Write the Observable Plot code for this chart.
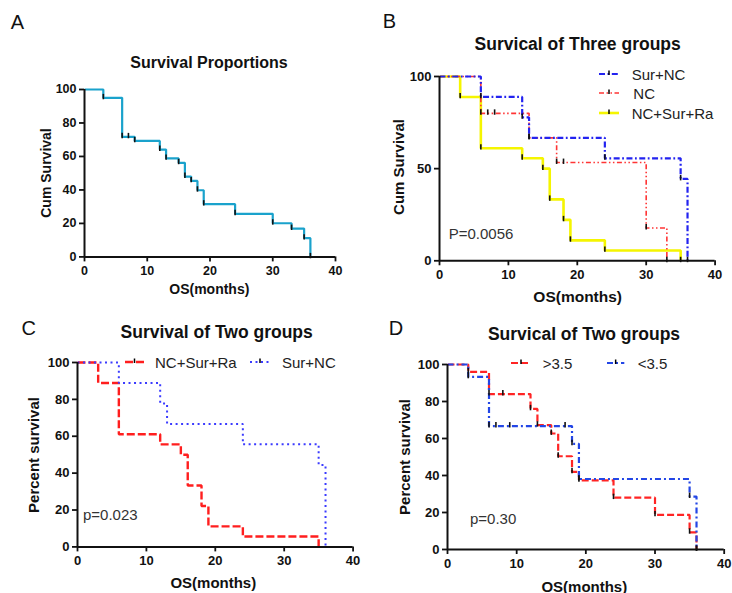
<!DOCTYPE html>
<html>
<head>
<meta charset="utf-8">
<script src="https://cdn.jsdelivr.net/npm/d3@7"></script>
<script src="https://cdn.jsdelivr.net/npm/@observablehq/plot@0.6"></script>
<style>
  body { margin: 0; background: white; }
  #root { position: relative; width: 732px; height: 593px; background: white; overflow: hidden;
          font-family: 'Liberation Sans', Arial, sans-serif; color: #111; }
  .t { position: absolute; white-space: nowrap; line-height: 1; }
</style>
</head>
<body>
<div id="root"></div>
<script>
// ---------- data ----------
const monthTicks = [0, 10, 20, 30, 40];
const pctTicks = [0, 20, 40, 60, 80, 100];
const cumTicksB = [0, 50, 100];

// Panel A: all patients
const aTime = [0, 3, 6, 8, 12, 13, 15, 16, 17, 18, 19, 24, 30, 33, 35, 36];
const aSurv = [100, 95, 71.7, 69.3, 64.1, 58.8, 56.2, 48, 45.4, 39.8, 31.5, 25.7, 20.1, 16.9, 11.2, 0];
const aCensorTime = [7];
const aCensorSurv = [71.7];

// Panel B / C groups
const surNcTime = [0, 6, 12, 13, 24, 35, 36];
const surNcSurv = [100, 88.9, 77.8, 66.7, 55.6, 44.4, 0];
const ncTime = [0, 6, 13, 17, 30, 33];
const ncSurv = [100, 80, 66.7, 53.3, 17.8, 0];
const ncCensorTime = [7, 8, 18];
const ncCensorSurv = [80, 80, 53.3];
const triTime = [0, 3, 6, 12, 15, 16, 18, 19, 24, 35];
const triSurv = [100, 88.9, 61.1, 55.6, 50, 33.3, 22.2, 11.1, 5.6, 0];

// Panel D groups
const hiTime = [0, 3, 6, 12, 13, 15, 16, 18, 19, 24, 30, 35, 36];
const hiSurv = [100, 96, 84, 76, 67.2, 62.7, 50.4, 42, 37.4, 28, 18.7, 9.3, 0];
const hiCensorTime = [8];
const hiCensorSurv = [84];
const loTime = [0, 3, 6, 18, 19, 35, 36];
const loSurv = [100, 93.3, 66.7, 57.1, 38.1, 28.6, 0];
const loCensorTime = [7, 9, 17];
const loCensorSurv = [66.7, 66.7, 66.7];

// ---------- helpers ----------
const root = document.getElementById("root");
const FONT = "'Liberation Sans', Arial, sans-serif";

function rows(t, s) { return t.map((x, i) => ({x, y: s[i]})); }
function tickRows(t, s, ct, cs) {
  const r = rows(t, s).filter(d => d.x > 0);
  return r.concat(ct ? rows(ct, cs) : []);
}
// short vertical tick symbol (censor / event marks)
const vTick = {
  draw(ctx, size) {
    const r = Math.sqrt(size / Math.PI);
    ctx.moveTo(0, -r);
    ctx.lineTo(0, r * 0.35);
  }
};

function text(str, x, y, opts = {}) {
  const d = document.createElement("div");
  d.className = "t";
  d.textContent = str;
  d.style.left = x + "px";
  d.style.top = y + "px";
  d.style.fontSize = (opts.size || 15) + "px";
  d.style.fontWeight = opts.weight || "normal";
  d.style.fontFamily = opts.family || FONT;
  d.style.color = opts.color || "#111";
  let tr = opts.left ? "translate(0,-50%)" : "translate(-50%,-50%)";
  if (opts.rotate) tr += " rotate(-90deg)";
  d.style.transform = tr;
  root.appendChild(d);
}

function legendSample(x1, x2, y, color, dash, sw) {
  const svg = d3.create("svg")
    .attr("width", x2 - x1 + 4).attr("height", 12)
    .style("position", "absolute").style("left", (x1 - 2) + "px").style("top", (y - 6) + "px")
    .style("overflow", "visible");
  svg.append("line").attr("x1", 2).attr("x2", x2 - x1 + 2).attr("y1", 6).attr("y2", 6)
    .attr("stroke", color).attr("stroke-width", sw).attr("stroke-dasharray", dash || null);
  const mx = (x2 - x1) / 2 + 2;
  svg.append("line").attr("x1", mx).attr("x2", mx).attr("y1", 2.5).attr("y2", 7)
    .attr("stroke", "black").attr("stroke-width", 1.5);
  root.appendChild(svg.node());
}

function panel({x0, x40, y100, y0, yTicks, series, ticks, fs}) {
  const ml = 50, mr = 15, mt = 15, mb = 30;
  const width = (x40 - x0) + ml + mr;
  const height = (y0 - y100) + mt + mb;
  const marks = [];
  for (const s of series) {
    marks.push(Plot.line(rows(s.t, s.s), {
      x: "x", y: "y", curve: "step-after",
      stroke: s.color, strokeWidth: s.sw, strokeDasharray: s.dash,
      strokeLinejoin: "miter", strokeLinecap: "butt"
    }));
  }
  if (ticks) {
    marks.push(Plot.dot(ticks, {x: "x", y: "y", symbol: vTick, r: 4, fill: "none", stroke: "#111", strokeWidth: 1.6}));
  }
  marks.push(
    Plot.axisX({ticks: monthTicks, tickSize: 5, tickPadding: 4, label: null, strokeWidth: 1.8}),
    Plot.axisY({ticks: yTicks, tickSize: 5, tickPadding: 3, label: null, strokeWidth: 1.8}),
    Plot.ruleX([0], {y1: 0, y2: 100, stroke: "#111", strokeWidth: 2}),
    Plot.ruleY([0], {x1: 0, x2: 40, stroke: "#111", strokeWidth: 2})
  );
  const p = Plot.plot({
    width, height, marginLeft: ml, marginRight: mr, marginTop: mt, marginBottom: mb,
    x: {domain: [0, 40]},
    y: {domain: [0, 100]},
    style: {fontFamily: FONT, fontSize: fs + "px", fontWeight: "bold", color: "#111",
            background: "transparent", overflow: "visible"},
    marks
  });
  p.style.position = "absolute";
  p.style.left = (x0 - ml) + "px";
  p.style.top = (y100 - mt) + "px";
  root.appendChild(p);
}

// ---------- Panel A ----------
panel({
  x0: 84, x40: 335, y100: 89.3, y0: 256.7, yTicks: pctTicks, fs: 12.5,
  series: [{t: aTime, s: aSurv, color: "#1aa2cc", sw: 2.2}],
  ticks: tickRows(aTime, aSurv, aCensorTime, aCensorSurv)
});
text("A", 17.5, 22, {size: 20});
text("Survival Proportions", 209, 62.5, {size: 16, weight: "bold"});
text("Cum Survival", 45.7, 172.7, {size: 14, weight: "bold", rotate: true});
text("OS(months)", 209.3, 288.5, {size: 14, weight: "bold"});

// ---------- Panel B ----------
panel({
  x0: 438.7, x40: 714.3, y100: 75.7, y0: 260, yTicks: cumTicksB, fs: 13,
  series: [
    {t: triTime, s: triSurv, color: "#f5f500", sw: 2.6},
    {t: ncTime, s: ncSurv, color: "#ff3535", sw: 1.6, dash: "5,2.5,1.5,2.5,1.5,2.5"},
    {t: surNcTime, s: surNcSurv, color: "#2323f0", sw: 2.2, dash: "6,2.5,1.8,2.5"}
  ],
  ticks: tickRows(triTime, triSurv).concat(tickRows(ncTime, ncSurv, ncCensorTime, ncCensorSurv), tickRows(surNcTime, surNcSurv))
});
text("B", 389.5, 21, {size: 20});
text("Survical of Three groups", 577.7, 45, {size: 17.5, weight: "bold"});
text("Cum Survival", 398.3, 166.7, {size: 15, weight: "bold", rotate: true});
text("OS(months)", 577.7, 296.7, {size: 15.5, weight: "bold"});
legendSample(599, 619, 74, "#2323f0", "6,2.5,1.8,2.5", 2.2);
text("Sur+NC", 631.7, 74, {size: 15, left: true, color: "#222"});
legendSample(599, 619, 93, "#ff3535", "5,2.5,1.5,2.5,1.5,2.5", 1.6);
text("NC", 633.3, 93, {size: 15, left: true, color: "#222"});
legendSample(599, 619, 112.7, "#f5f500", null, 2.6);
text("NC+Sur+Ra", 631.7, 112.7, {size: 15, left: true, color: "#222"});
text("P=0.0056", 448.7, 232.7, {size: 15, left: true, color: "#333"});

// ---------- Panel C ----------
panel({
  x0: 76.7, x40: 352.3, y100: 362.3, y0: 546.7, yTicks: pctTicks, fs: 13,
  series: [
    {t: triTime, s: triSurv, color: "#ff1e1e", sw: 2.4, dash: "8,3"},
    {t: surNcTime, s: surNcSurv, color: "#3b3bff", sw: 2, dash: "2,3.5"}
  ],
  ticks: null
});
text("C", 28.8, 327.5, {size: 20});
text("Survival of Two groups", 216.7, 333, {size: 17.5, weight: "bold"});
text("Percent survival", 33.3, 455, {size: 15, weight: "bold", rotate: true});
text("OS(months)", 213.3, 581.7, {size: 15, weight: "bold"});
legendSample(125, 144, 361.7, "#ff1e1e", "8,3", 2.4);
text("NC+Sur+Ra", 155, 361.7, {size: 15, left: true, color: "#222"});
legendSample(250, 270, 361.7, "#3b3bff", "2,3.5", 2);
text("Sur+NC", 282, 361.7, {size: 15, left: true, color: "#222"});
text("p=0.023", 83, 514, {size: 15, left: true, color: "#333"});

// ---------- Panel D ----------
panel({
  x0: 447, x40: 723.7, y100: 363.7, y0: 548.7, yTicks: pctTicks, fs: 13,
  series: [
    {t: hiTime, s: hiSurv, color: "#ff2424", sw: 2.2, dash: "7,3"},
    {t: loTime, s: loSurv, color: "#2346e6", sw: 2.2, dash: "6,3,2,3"}
  ],
  ticks: tickRows(hiTime, hiSurv, hiCensorTime, hiCensorSurv).concat(tickRows(loTime, loSurv, loCensorTime, loCensorSurv))
});
text("D", 396, 327.5, {size: 20});
text("Survical of Two groups", 584, 335, {size: 17.5, weight: "bold"});
text("Percent survival", 404.3, 456.7, {size: 15, weight: "bold", rotate: true});
text("OS(months)", 584.3, 586, {size: 15, weight: "bold"});
legendSample(511, 531, 363, "#ff2424", "7,3", 2.2);
text(">3.5", 542.7, 363, {size: 15, left: true, color: "#222"});
legendSample(606.7, 624, 363, "#2346e6", "6,3,2,3", 2.2);
text("<3.5", 637.7, 363, {size: 15, left: true, color: "#222"});
text("p=0.30", 470, 518.3, {size: 15, left: true, color: "#333"});
</script>
</body>
</html>
